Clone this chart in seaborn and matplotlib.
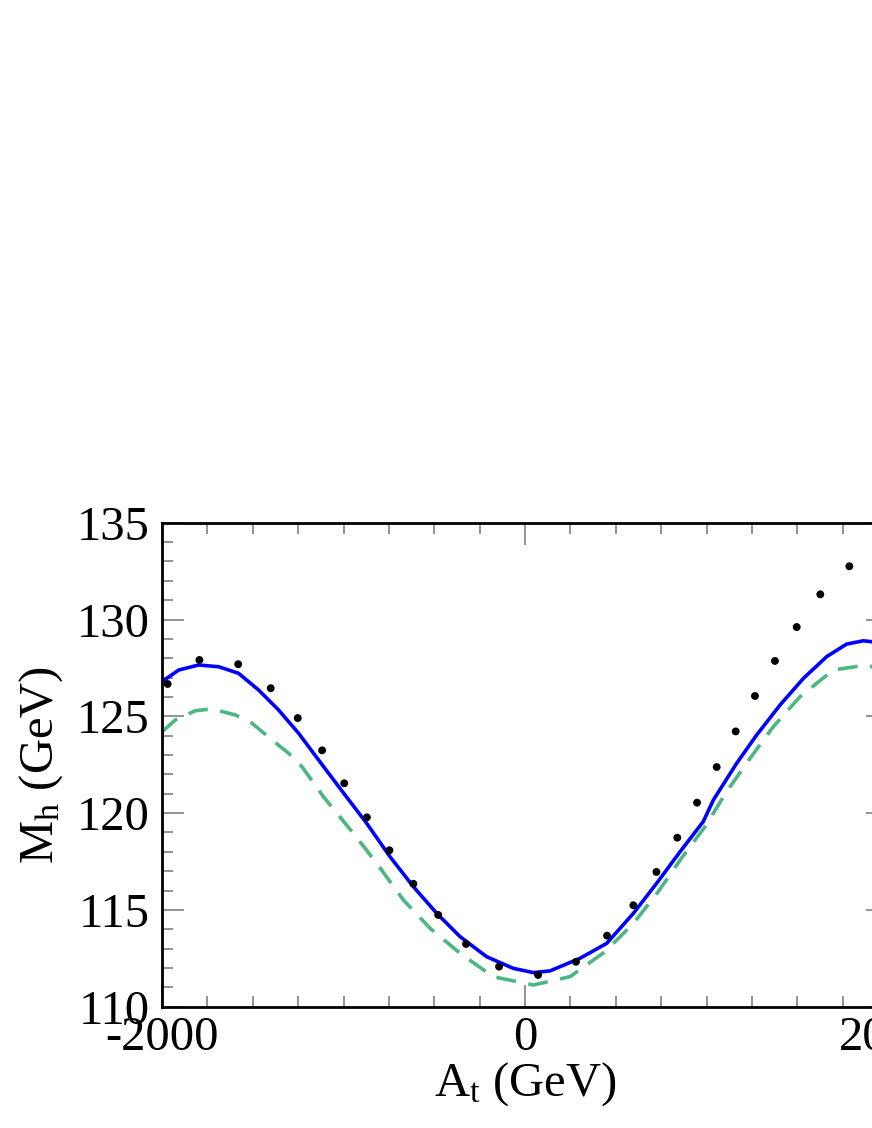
import numpy as np
import pandas as pd
import matplotlib
matplotlib.use("Agg")
import matplotlib.pyplot as plt
from matplotlib.ticker import MultipleLocator
import seaborn as sns

# points
dots_At = [-1969, -1794, -1580, -1401, -1252, -1118, -996, -871, -747, -615,
           -478, -325, -143, 72, 281, 452, 597, 724, 839, 948, 1056, 1161,
           1267, 1377, 1497, 1627, 1787]
dots_Mh = [126.67, 127.91, 127.69, 126.45, 124.91, 123.24, 121.54, 119.78,
           118.08, 116.35, 114.74, 113.24, 112.07, 111.64, 112.32, 113.67,
           115.24, 116.96, 118.73, 120.54, 122.38, 124.22, 126.05, 127.86,
           129.61, 131.30, 132.75]

# solid blue curve
blue_At = [-2000, -1908, -1798, -1688, -1578, -1468, -1358, -1247, -1137,
           -1026, -872, -744, -615, -486, -358, -211, -64, 46, 138, 303, 450,
           597, 725, 854, 982, 1038, 1166, 1276, 1405, 1534, 1662, 1772, 1864,
           1912, 2000]
blue_Mh = [126.79, 127.39, 127.65, 127.56, 127.22, 126.36, 125.33, 124.12,
           122.74, 121.36, 119.47, 117.75, 116.2, 114.82, 113.62, 112.58,
           111.98, 111.76, 111.85, 112.5, 113.27, 114.82, 116.37, 118.0,
           119.56, 120.68, 122.57, 124.03, 125.58, 126.96, 128.08, 128.73,
           128.9, 128.85, 128.6]

# dashed green curve
green_At = [-2000, -1927, -1816, -1725, -1596, -1504, -1394, -1302, -1229,
            -1111, -946, -817, -670, -523, -358, -175, 46, 248, 441, 597, 734,
            862, 992, 1111, 1240, 1368, 1515, 1698, 1882, 1912, 2000]
green_Mh = [124.2, 124.81, 125.29, 125.38, 125.07, 124.64, 123.78, 123.09,
            122.4, 120.85, 118.96, 117.41, 115.51, 114.05, 112.76, 111.55,
            111.12, 111.55, 112.84, 114.3, 115.94, 117.67, 119.3, 121.11,
            122.83, 124.46, 126.01, 127.39, 127.65, 127.56, 127.2]

sns.set_style("ticks")
plt.rcParams["font.family"] = ["Liberation Serif", "DejaVu Serif"]
plt.rcParams["mathtext.fontset"] = "custom"
plt.rcParams["mathtext.rm"] = "Liberation Serif"
plt.rcParams["mathtext.it"] = "Liberation Serif:italic"
plt.rcParams["axes.unicode_minus"] = False
plt.rcParams["text.color"] = "black"
plt.rcParams["axes.labelcolor"] = "black"
plt.rcParams["xtick.labelcolor"] = "black"
plt.rcParams["ytick.labelcolor"] = "black"

fig = plt.figure(figsize=(8.72, 11.28), dpi=100)
ax = fig.add_axes([162 / 872, 121.3 / 1128, 726 / 872, 484 / 1128])

blue = pd.DataFrame({"At": blue_At, "Mh": blue_Mh})
green = pd.DataFrame({"At": green_At, "Mh": green_Mh})
dots = pd.DataFrame({"At": dots_At, "Mh": dots_Mh})

sns.lineplot(data=green, x="At", y="Mh", ax=ax, color="#4cb782", lw=2.6,
             sort=False, estimator=None, linestyle=(0, (5.5, 3.5)))
sns.lineplot(data=blue, x="At", y="Mh", ax=ax, color="#0000ff", lw=2.6,
             sort=False, estimator=None)
sns.scatterplot(data=dots, x="At", y="Mh", ax=ax, color="black", s=32,
                edgecolor="none", zorder=5)

ax.set_xlim(-2000, 2000)
ax.set_ylim(110, 135)
ax.xaxis.set_major_locator(MultipleLocator(2000))
ax.xaxis.set_minor_locator(MultipleLocator(250))
ax.yaxis.set_major_locator(MultipleLocator(5))
ax.yaxis.set_minor_locator(MultipleLocator(1))
ax.tick_params(which="both", direction="in", top=True, right=True,
               color="#808080", width=1.2, labelsize=35)
ax.tick_params(which="major", length=16)
ax.tick_params(axis="y", which="major", pad=9)
ax.tick_params(axis="x", which="major", pad=7)
ax.tick_params(which="minor", length=8)
for s in ax.spines.values():
    s.set_linewidth(2)
    s.set_color("black")

ax.set_xlabel(r"A$_\mathrm{t}$ (GeV)", fontsize=35, labelpad=0)
ax.set_ylabel(r"M$_\mathrm{h}$ (GeV)", fontsize=35, labelpad=8)

fig.savefig("out.png", dpi=100)
